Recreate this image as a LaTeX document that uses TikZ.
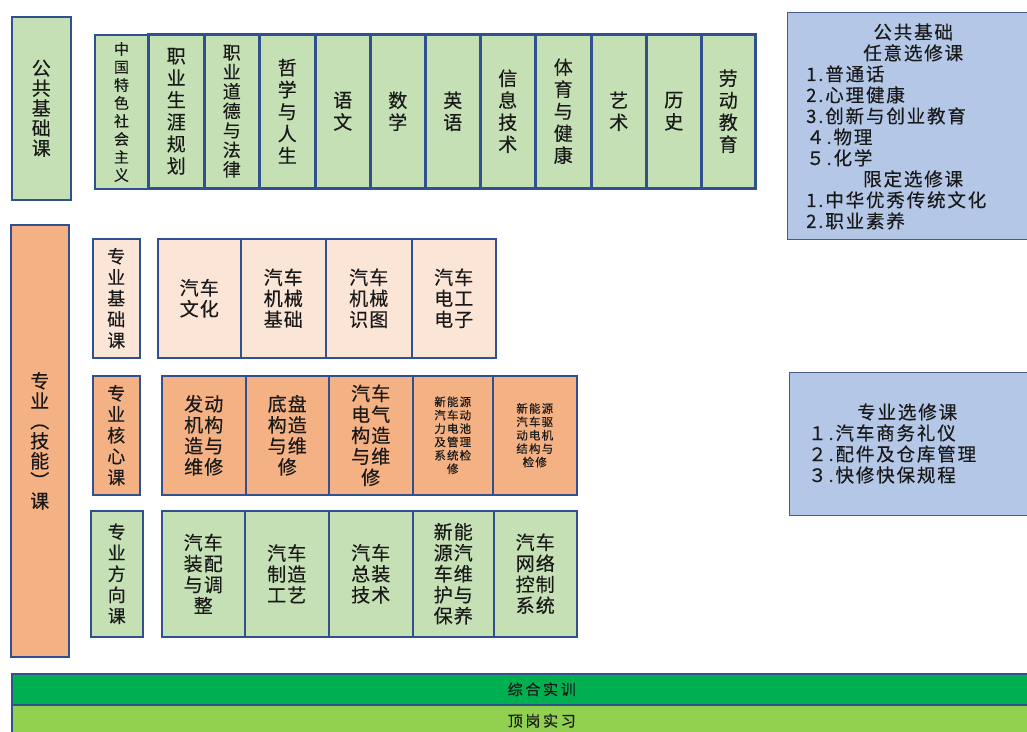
\documentclass[tikz,border=0pt]{standalone}
\usepackage{fontspec}
\setmainfont{Noto Sans CJK SC}[LetterSpace=6,FakeBold=0.3]
\newfontfamily\lsfont{Noto Sans CJK SC}[LetterSpace=10,FakeBold=0.3]
\newfontfamily\barfont{Noto Sans CJK SC}[LetterSpace=18,FakeBold=0.3]
\definecolor{bd}{RGB}{47,82,143}
\definecolor{bdl}{RGB}{70,90,140}
\definecolor{lgreen}{RGB}{197,224,180}
\definecolor{peach}{RGB}{251,229,214}
\definecolor{orng}{RGB}{244,177,131}
\definecolor{lblue}{RGB}{180,199,231}
\definecolor{dgreen}{RGB}{0,176,80}
\definecolor{mgreen}{RGB}{146,208,80}
\definecolor{tx}{RGB}{25,25,25}
\begin{document}
\begin{tikzpicture}[x=1pt,y=-1pt,
  cell/.style={draw=bd, line width=1.5pt, inner sep=0pt, anchor=north west, align=center, text=tx},
  big/.style={font=\fontsize{19}{21}\selectfont},
  topcell/.style={cell, fill=lgreen, line width=2.5pt, minimum height=154pt, font=\fontsize{19}{22}\selectfont},
  hdr/.style={cell, minimum width=47pt, minimum height=119pt, font=\fontsize{18}{21}\selectfont},
  r2/.style={cell, fill=peach, minimum height=119pt, big},
  r3/.style={cell, fill=orng, minimum height=119pt, big},
  r4/.style={cell, fill=lgreen, minimum height=126pt, big},
  tiny/.style={font=\lsfont\fontsize{11.5}{13.4}\selectfont},
  optbox/.style={cell, fill=lblue, draw=bdl, line width=1.2pt},
  opttxt/.style={anchor=west, inner sep=0pt, align=left, text=tx, font=\lsfont\fontsize{18.5}{21}\selectfont},
  bar/.style={cell, minimum width=1060pt, font=\barfont\fontsize{15}{18}\selectfont}
]
\useasboundingbox (0,0) rectangle (1027,731);

% ---------- public foundation ----------
\node[cell, fill=lgreen, minimum width=59pt, minimum height=183pt, font=\fontsize{19}{20}\selectfont] (pub) at (11,16) {公\\共\\基\\础\\课};

\node[topcell, line width=2pt, minimum width=53pt, font=\fontsize{15}{18}\selectfont] (t1) at (94,34) {中\\国\\特\\色\\社\\会\\主\\义};
\node[topcell, minimum width=56pt] (t2) at (147,33) {职\\业\\生\\涯\\规\\划};
\node[topcell, minimum width=55pt, font=\fontsize{18}{19.5}\selectfont] (t3) at (203,33) {职\\业\\道\\德\\与\\法\\律};
\node[topcell, minimum width=56pt] (t4) at (258,33) {哲\\学\\与\\人\\生};
\node[topcell, minimum width=55pt] (t5) at (314,33) {语\\文};
\node[topcell, minimum width=55pt] (t6) at (369,33) {数\\学};
\node[topcell, minimum width=55pt] (t7) at (424,33) {英\\语};
\node[topcell, minimum width=55pt] (t8) at (479,33) {信\\息\\技\\术};
\node[topcell, minimum width=56pt] (t9) at (534,33) {体\\育\\与\\健\\康};
\node[topcell, minimum width=55pt] (t10) at (590,33) {艺\\术};
\node[topcell, minimum width=55pt] (t11) at (645,33) {历\\史};
\node[topcell, minimum width=54pt] (t12) at (700,33) {劳\\动\\教\\育};

% ---------- optional boxes ----------
\node[optbox, minimum width=250pt, minimum height=227pt] (pubopt) at (787,12) {};
\node[opttxt, text width=214pt] (pubopttx) at (806,126.5) {\makebox[214pt]{公共基础}\\ \makebox[214pt]{任意选修课}\\ 1.普通话\\ 2.心理健康\\ 3.创新与创业教育\\ ４.物理\\ ５.化学\\ \makebox[214pt]{限定选修课}\\ 1.中华优秀传统文化\\ 2.职业素养};

\node[optbox, minimum width=250pt, minimum height=143pt] (majopt) at (789,372) {};
\node[opttxt, text width=198pt] (majopttx) at (808,443.5) {\makebox[198pt]{专业选修课}\\ １.汽车商务礼仪\\ ２.配件及仓库管理\\ ３.快修快保规程};

% ---------- professional ----------
\node[cell, fill=orng, minimum width=58pt, minimum height=432pt, font=\fontsize{19}{20}\selectfont] (prof) at (10,224) {专\\业\\︵\\技\\能\\︶\\课};

% row: basic
\node[hdr, fill=peach] (h2) at (92,238) {专\\业\\基\\础\\课};
\node[r2, minimum width=83pt] (b1) at (157,238) {汽车\\文化};
\node[r2, minimum width=85pt] (b2) at (240,238) {汽车\\机械\\基础};
\node[r2, minimum width=86pt] (b3) at (325,238) {汽车\\机械\\识图};
\node[r2, minimum width=84pt] (b4) at (411,238) {汽车\\电工\\电子};

% row: core
\node[hdr, fill=orng] (h3) at (92,375) {专\\业\\核\\心\\课};
\node[r3, minimum width=84pt] (c1) at (161,375) {发动\\机构\\造与\\维修};
\node[r3, minimum width=83pt] (c2) at (245,375) {底盘\\构造\\与维\\修};
\node[r3, minimum width=84pt] (c3) at (328,375) {汽车\\电气\\构造\\与维\\修};
\node[r3, minimum width=80pt, tiny] (c4) at (412,375) {新能源\\汽车动\\力电池\\及管理\\系统检\\修};
\node[r3, minimum width=84pt, tiny] (c5) at (492,375) {新能源\\汽车驱\\动电机\\结构与\\检修};

% row: direction
\node[hdr, fill=lgreen, minimum width=52pt, minimum height=126pt] (h4) at (90,510) {专\\业\\方\\向\\课};
\node[r4, minimum width=83pt] (d1) at (161,510) {汽车\\装配\\与调\\整};
\node[r4, minimum width=84pt] (d2) at (244,510) {汽车\\制造\\工艺};
\node[r4, minimum width=84pt] (d3) at (328,510) {汽车\\总装\\技术};
\node[r4, minimum width=81pt] (d4) at (412,510) {新能\\源汽\\车维\\护与\\保养};
\node[r4, minimum width=83pt] (d5) at (493,510) {汽车\\网络\\控制\\系统};

% ---------- bottom bars ----------
\node[bar, fill=dgreen, minimum height=31pt] (zhsx) at (11,673) {综合实训};
\node[bar, fill=mgreen, minimum height=32pt] (dgsx) at (11,704) {顶岗实习};
\end{tikzpicture}
\end{document}
